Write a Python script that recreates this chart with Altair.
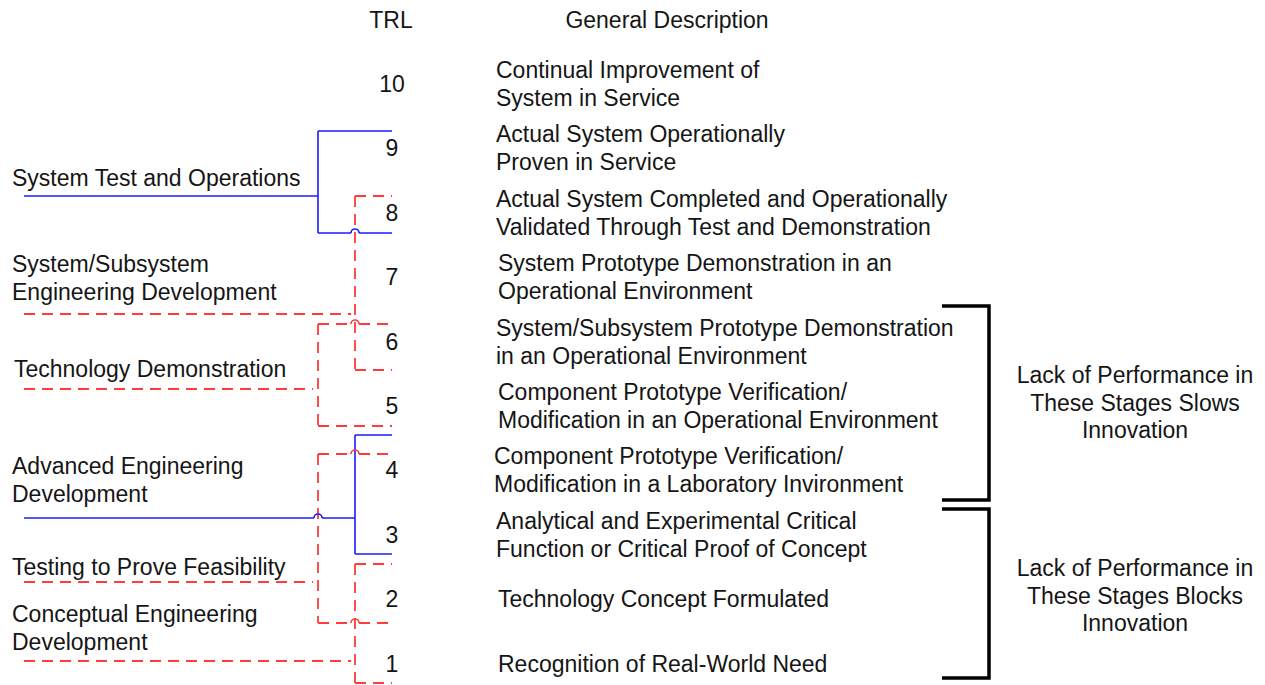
import math
import altair as alt
import pandas as pd

# ---------------- data ----------------
trl_levels = [10, 9, 8, 7, 6, 5, 4, 3, 2, 1]
trl_descriptions = [
    "Continual Improvement of\nSystem in Service",
    "Actual System Operationally\nProven in Service",
    "Actual System Completed and Operationally\nValidated Through Test and Demonstration",
    "System Prototype Demonstration in an\nOperational Environment",
    "System/Subsystem Prototype Demonstration\nin an Operational Environment",
    "Component Prototype Verification/\nModification in an Operational Environment",
    "Component Prototype Verification/\nModification in a Laboratory Invironment",
    "Analytical and Experimental Critical\nFunction or Critical Proof of Concept",
    "Technology Concept Formulated",
    "Recognition of Real-World Need",
]
stage_names = [
    "System Test and Operations",
    "System/Subsystem\nEngineering Development",
    "Technology Demonstration",
    "Advanced Engineering\nDevelopment",
    "Testing to Prove Feasibility",
    "Conceptual Engineering\nDevelopment",
]
stage_kind = ["solid", "dashed", "dashed", "solid", "dashed", "dashed"]
headers = ["TRL", "General Description"]
impact_notes = [
    "Lack of Performance in\nThese Stages Slows\nInnovation",
    "Lack of Performance in\nThese Stages Blocks\nInnovation",
]

# ---------------- layout (page pixels) ----------------
W, H = 1249, 677
FS = 23
LH = 28
FONT = "Liberation Sans"
TXT = "#151515"
RED = "#ff3b3b"
BLUE = "#1a1aff"

def trl_y(k):
    return 664 - (k - 1) * 64.4

desc_x = [496, 496, 496, 498, 496, 498, 494, 496, 498, 498]
# bracket geometry for stages: vertical x, top y, bottom y, label-line y, label text y (first line), label x
st_vx = [318, 355, 318, 355, 318, 355]
st_top = [131, 196, 324, 435, 454, 564]
st_bot = [233, 370, 426, 554, 623, 683]
st_line = [196, 314, 389, 518, 582, 661]
st_line_end = [318, 351, 313, 355, 313, 351]
st_text_y = [178, 264, 369, 466, 567, 614]
st_text_x = [12, 12, 14, 12, 12, 12]
right_end = 392
# crossings (hops): (x, y, colour)
hops = [(355, 233, "solid"), (355, 324, "dashed"), (355, 454, "dashed"),
        (318, 518, "solid"), (355, 623, "dashed")]
HOP_R = 4

# ---------------- build tables ----------------
text_rows = []

def add_text(x, y_first, text, align, lh=LH, center=False):
    lines = text.split("\n")
    n = len(lines)
    for i, ln in enumerate(lines):
        if center:
            y = y_first + (i - (n - 1) / 2) * lh
        else:
            y = y_first + i * lh
        text_rows.append({"x": x, "y": y + 0.5, "t": ln, "align": align})

add_text(391, 20, headers[0], "center")
add_text(667, 20, headers[1], "center")
for k, d, dx in zip(trl_levels, trl_descriptions, desc_x):
    add_text(392, trl_y(k), str(k), "center", center=True)
    add_text(dx, trl_y(k), d, "left", center=True)
for name, tx, ty in zip(stage_names, st_text_x, st_text_y):
    add_text(tx, ty, name, "left")
add_text(1135, 403, impact_notes[0], "center", lh=27.5, center=True)
add_text(1135, 596, impact_notes[1], "center", lh=27.5, center=True)
texts = pd.DataFrame(text_rows)

segs = []

def hsplit(x1, x2, y, kind):
    """horizontal segment, broken where a hop sits"""
    pts = sorted([h[0] for h in hops if h[1] == y and min(x1, x2) < h[0] < max(x1, x2)])
    a = min(x1, x2)
    for p in pts:
        segs.append({"x": a, "x2": p - HOP_R, "y": y, "y2": y, "kind": kind})
        a = p + HOP_R
    segs.append({"x": a, "x2": max(x1, x2), "y": y, "y2": y, "kind": kind})

for i in range(len(stage_names)):
    kind = stage_kind[i]
    vx = st_vx[i]
    hsplit(vx, right_end, st_top[i], kind)
    hsplit(vx, right_end, st_bot[i], kind)
    segs.append({"x": vx, "x2": vx, "y": st_top[i], "y2": st_bot[i], "kind": kind})
    hsplit(24, st_line_end[i], st_line[i], kind)
segs = pd.DataFrame(segs)

hop_df = pd.DataFrame([{"x": h[0], "y": h[1], "kind": h[2]} for h in hops])

# black brackets as paths
brackets = []
for b, (ty, by) in enumerate([(306, 500), (509, 678)]):
    for o, (px, py) in enumerate([(942, ty), (989, ty), (989, by), (942, by)]):
        brackets.append({"b": b, "o": o, "x": px, "y": py})
brackets = pd.DataFrame(brackets)

# ---------------- chart ----------------
xs = alt.Scale(domain=[8, 8 + W], range=[0, W], nice=False, zero=False)
ys = alt.Scale(domain=[8, 8 + H], range=[0, H], nice=False, zero=False)
X = lambda f="x": alt.X(f"{f}:Q", scale=xs, axis=None)
Y = lambda f="y": alt.Y(f"{f}:Q", scale=ys, axis=None)
col = alt.Color("kind:N", scale=alt.Scale(domain=["solid", "dashed"], range=[BLUE, RED]), legend=None)

solid_rules = alt.Chart(segs).transform_filter("datum.kind == 'solid'").mark_rule(
    strokeWidth=1.6, color=BLUE).encode(x=X(), x2="x2:Q", y=Y(), y2="y2:Q")
dashed_rules = alt.Chart(segs).transform_filter("datum.kind == 'dashed'").mark_rule(
    strokeWidth=1.8, color=RED, strokeDash=[11, 7]).encode(x=X(), x2="x2:Q", y=Y(), y2="y2:Q")

hop_marks = alt.Chart(hop_df).mark_arc(
    radius=HOP_R + 0.8, radius2=HOP_R - 0.8, theta=3 * math.pi / 2, theta2=5 * math.pi / 2
).encode(x=X(), y=Y(), color=col)

bracket_lines = alt.Chart(brackets).mark_line(
    color="black", strokeWidth=3.5, strokeJoin="miter", strokeCap="butt"
).encode(x=X(), y=Y(), detail="b:N", order="o:Q")

def text_layer(align):
    return alt.Chart(texts).transform_filter(f"datum.align == '{align}'").mark_text(
        align=align, baseline="middle", font=FONT, fontSize=FS, color=TXT
    ).encode(x=X(), y=Y(), text="t:N")

chart = alt.layer(
    solid_rules, dashed_rules, hop_marks, bracket_lines,
    text_layer("left"), text_layer("center"),
).properties(
    width=W, height=H, padding=0,
    autosize=alt.AutoSizeParams(type="fit", contains="padding"),
    background="white",
).configure_view(stroke=None)

chart.save("out.html", embed_options={"renderer": "svg", "actions": False})
